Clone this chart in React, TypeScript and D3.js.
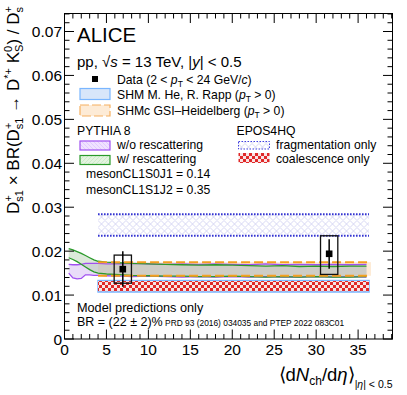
import React from 'react';
import * as d3 from 'd3';

// measured points
const dataX = [6.95, 31.55];
const dataY = [0.0159, 0.0194];
const statLo = [0.0119, 0.016];
const statHi = [0.02, 0.0227];
const sysLo = [0.0127, 0.0147];
const sysHi = [0.0191, 0.0235];

// flat model bands [low, high]
const shmHeRapp = [0.0107, 0.0133];
const shmcGSI = [0.0144, 0.0175];
const eposFrag = [0.0235, 0.0284];
const eposCoal = [0.0109, 0.0132];
const bandRange = [4.0, 36.3];

// PYTHIA 8 curves
const pyX = [0.5, 1, 1.5, 2, 2.5, 3, 3.5, 4, 5, 6, 7, 8, 10, 12, 14, 16, 18, 20, 22, 24, 26, 28, 30, 32, 34, 36];
const noRescHi = [0.017, 0.0169, 0.0169, 0.017, 0.0172, 0.0172, 0.0172, 0.0172, 0.0171, 0.0171, 0.0171, 0.0172, 0.0171, 0.017, 0.0171, 0.017, 0.0171, 0.017, 0.0169, 0.0171, 0.0169, 0.017, 0.0169, 0.017, 0.0169, 0.017];
const noRescLo = [0.015, 0.0139, 0.0137, 0.0138, 0.0146, 0.0146, 0.0145, 0.0145, 0.0144, 0.0143, 0.0143, 0.0142, 0.0143, 0.0142, 0.0141, 0.0142, 0.0141, 0.0142, 0.0141, 0.0142, 0.0141, 0.0141, 0.0142, 0.0141, 0.0142, 0.0141];
const rescHi = [0.0206, 0.0203, 0.0199, 0.0195, 0.019, 0.0185, 0.018, 0.0177, 0.0175, 0.0174, 0.0173, 0.0172, 0.0171, 0.017, 0.0169, 0.0168, 0.0169, 0.0168, 0.0167, 0.0166, 0.0167, 0.0165, 0.0166, 0.0165, 0.0166, 0.0166];
const rescLo = [0.0185, 0.0181, 0.0176, 0.017, 0.0164, 0.0158, 0.0153, 0.015, 0.0148, 0.0147, 0.0146, 0.0145, 0.0144, 0.0143, 0.0143, 0.0142, 0.0142, 0.0143, 0.0142, 0.0141, 0.0142, 0.0141, 0.0142, 0.0141, 0.0141, 0.0142];

const xMajor = [0, 5, 10, 15, 20, 25, 30, 35];
const yMajor = [0, 0.01, 0.02, 0.03, 0.04, 0.05, 0.06, 0.07];
const yLabels = ['0', '0.01', '0.02', '0.03', '0.04', '0.05', '0.06', '0.07'];

const W = 407, H = 395;
const L = 64.5, R = 392.5, T = 13.5, B = 339;
const FONT = '"Liberation Sans", Arial, sans-serif';

const App = () => {
  const x = d3.scaleLinear().domain([0, 39.1]).range([L, R]);
  const y = d3.scaleLinear().domain([0, 0.0741]).range([B, T]);

  const bandArea = d3.area<number>()
    .x((_, i) => x(pyX[i]))
    .curve(d3.curveLinear);
  const pyBand = (lo: number[], hi: number[]) =>
    bandArea.y0((_, i) => y(lo[i])).y1((_, i) => y(hi[i]))(pyX) || '';
  const pyLine = (v: number[]) =>
    d3.line<number>().x((d) => x(d)).y((_, i) => y(v[i]))(pyX) || '';

  const flatBand = (b: number[]) => ({
    x: x(bandRange[0]),
    w: x(bandRange[1]) - x(bandRange[0]),
    y: y(b[1]),
    h: y(b[0]) - y(b[1]),
  });

  const xMinor = d3.range(0, 39.1, 1);
  const yMinor = d3.range(0, 0.0741, 0.002);

  const fr = flatBand(eposFrag);
  const co = flatBand(eposCoal);
  const sh = flatBand(shmHeRapp);
  const gs = flatBand(shmcGSI);

  const legendText = { fontSize: 12.2 };

  return (
    <svg width={W} height={H} style={{ position: 'absolute', left: 0, top: 0, background: '#fff' }} fontFamily={FONT}>
      <defs>
        <pattern id="frag" width="7" height="7" patternUnits="userSpaceOnUse">
          <rect width="7" height="7" fill="#fff" />
          <path d="M3.5 0 L7 3.5 L3.5 7 L0 3.5 Z" fill="none" stroke="#d2d2f2" strokeWidth="0.9" />
        </pattern>
        <pattern id="coal" width="6" height="6" patternUnits="userSpaceOnUse">
          <rect width="6" height="6" fill="#f8e4e4" />
          <rect width="3" height="3" fill="#e02828" />
          <rect x="3" y="3" width="3" height="3" fill="#e02828" />
        </pattern>
        <pattern id="hatchG" width="4" height="4" patternUnits="userSpaceOnUse">
          <rect width="4" height="4" fill="#e4f4e0" />
          <path d="M0 4 L4 0" stroke="#c8e8c4" strokeWidth="0.8" />
        </pattern>
        <pattern id="hatchP" width="4" height="4" patternUnits="userSpaceOnUse">
          <rect width="4" height="4" fill="#f0e2ff" />
          <path d="M0 0 L4 4" stroke="#dcc4ff" strokeWidth="0.8" />
        </pattern>
      </defs>

      {/* SHM He-Rapp band */}
      <rect x={sh.x} y={sh.y} width={sh.w} height={sh.h} fill="#d8e6fa" stroke="#7ab6ff" strokeWidth={1.5} />
      {/* EPOS4HQ coalescence */}
      <rect x={co.x} y={co.y} width={co.w} height={co.h} fill="url(#coal)" />
      {/* EPOS4HQ fragmentation */}
      <rect x={fr.x} y={fr.y} width={fr.w} height={fr.h} fill="url(#frag)" />
      <line x1={fr.x} x2={fr.x + fr.w} y1={fr.y} y2={fr.y} stroke="#2a2ad0" strokeWidth={2} strokeDasharray="1.5 1.5" />
      <line x1={fr.x} x2={fr.x + fr.w} y1={fr.y + fr.h} y2={fr.y + fr.h} stroke="#2a2ad0" strokeWidth={2} strokeDasharray="1.5 1.5" />
      {/* SHMc GSI band */}
      <rect x={gs.x} y={gs.y} width={gs.w + 2} height={gs.h} fill="#fdebd6" />

      {/* PYTHIA bands */}
      <path d={pyBand(noRescLo, noRescHi)} fill="#c8a8f0" fillOpacity={0.4} />
      <path d={pyBand(rescLo, rescHi)} fill="#a8c8a0" fillOpacity={0.4} />
      <path d={pyLine(noRescHi)} fill="none" stroke="#a050f0" strokeWidth={1.3} />
      <path d={pyLine(noRescLo)} fill="none" stroke="#a050f0" strokeWidth={1.3} />
      <path d={pyLine(rescHi)} fill="none" stroke="#2a9a2a" strokeWidth={1.3} />
      <path d={pyLine(rescLo)} fill="none" stroke="#2a9a2a" strokeWidth={1.3} />

      <line x1={gs.x} x2={gs.x + gs.w} y1={gs.y} y2={gs.y} stroke="#f5a020" strokeWidth={2} strokeDasharray="9 4" />
      <line x1={gs.x} x2={gs.x + gs.w} y1={gs.y + gs.h} y2={gs.y + gs.h} stroke="#f5a020" strokeWidth={2} strokeDasharray="9 4" />

      {/* data */}
      {dataX.map((dx, i) => (
        <g key={i}>
          <rect x={x(dx - 1.03)} y={y(sysHi[i])} width={x(dx + 1.03) - x(dx - 1.03)} height={y(sysLo[i]) - y(sysHi[i])}
            fill="none" stroke="#111" strokeWidth={1.3} />
          <line x1={x(dx)} x2={x(dx)} y1={y(statHi[i])} y2={y(statLo[i])} stroke="#000" strokeWidth={1.5} />
          <rect x={x(dx) - 3.3} y={y(dataY[i]) - 3.3} width={6.6} height={6.6} fill="#000" />
        </g>
      ))}

      {/* frame and ticks */}
      <rect x={L} y={T} width={R - L} height={B - T} fill="none" stroke="#000" strokeWidth={1} />
      {xMinor.map((v) => {
        const major = v % 5 === 0;
        const len = major ? 9.5 : 5;
        return (
          <g key={'xt' + v}>
            <line x1={x(v)} x2={x(v)} y1={B} y2={B - len} stroke="#000" />
            <line x1={x(v)} x2={x(v)} y1={T} y2={T + len} stroke="#000" />
          </g>
        );
      })}
      {yMinor.map((v, i) => {
        const major = i % 5 === 0;
        const len = major ? 9.5 : 5;
        return (
          <g key={'yt' + i}>
            <line x1={L} x2={L + len} y1={y(v)} y2={y(v)} stroke="#000" />
            <line x1={R} x2={R - len} y1={y(v)} y2={y(v)} stroke="#000" />
          </g>
        );
      })}
      {xMajor.map((v) => (
        <text key={'xl' + v} x={x(v)} y={355} fontSize={15.5} textAnchor="middle">{v}</text>
      ))}
      {yMajor.map((v, i) => (
        <text key={'yl' + i} x={L - 2.5} y={y(v) + 5.5} fontSize={15.5} textAnchor="end">{yLabels[i]}</text>
      ))}

      {/* axis titles */}
      <text x={R} y={381} fontSize={18.5} textAnchor="end">
        <tspan>⟨d</tspan><tspan fontStyle="italic">N</tspan>
        <tspan fontSize={12} dy={4}>ch</tspan>
        <tspan dy={-4}>/d</tspan><tspan fontStyle="italic">η</tspan><tspan>⟩</tspan>
        <tspan fontSize={10.5} dy={7}>|</tspan><tspan fontSize={10.5} fontStyle="italic">η</tspan><tspan fontSize={10.5}>| &lt; 0.5</tspan>
      </text>
      <text transform="translate(18.5,6) rotate(-90)" fontSize={17} textAnchor="end">
        <tspan>D</tspan>
        <tspan fontSize={11} dy={-7}>+</tspan>
        <tspan fontSize={11} dx={-6.5} dy={11}>s1</tspan>
        <tspan dy={-4}> × BR(D</tspan>
        <tspan fontSize={11} dy={-7}>+</tspan>
        <tspan fontSize={11} dx={-6.5} dy={11}>s1</tspan>
        <tspan dy={-4}> → D</tspan>
        <tspan fontSize={11} dy={-7}>*+</tspan>
        <tspan dy={7}> K</tspan>
        <tspan fontSize={11} dy={-7}>0</tspan>
        <tspan fontSize={11} dx={-6} dy={11}>S</tspan>
        <tspan dy={-4}>) / D</tspan>
        <tspan fontSize={11} dy={-7}>+</tspan>
        <tspan fontSize={11} dx={-6.5} dy={11}>s</tspan>
      </text>

      {/* header */}
      <text x={77} y={42} fontSize={20.5}>ALICE</text>
      <text x={77} y={67} fontSize={15}>
        pp, √<tspan fontStyle="italic">s</tspan> = 13 TeV, |<tspan fontStyle="italic">y</tspan>| &lt; 0.5
      </text>

      {/* legend */}
      <rect x={92} y={76} width={6} height={6} fill="#000" />
      <text x={117} y={83.5} {...legendText}>
        Data (2 &lt; <tspan fontStyle="italic">p</tspan><tspan fontSize={8.5} dy={3}>T</tspan><tspan dy={-3}> &lt; 24 GeV/</tspan><tspan fontStyle="italic">c</tspan>)
      </text>
      <rect x={80} y={88.5} width={30} height={11} fill="#d8e6fa" stroke="#7ab6ff" strokeWidth={1.2} />
      <text x={117} y={98.5} {...legendText}>
        SHM M. He, R. Rapp (<tspan fontStyle="italic">p</tspan><tspan fontSize={8.5} dy={3}>T</tspan><tspan dy={-3}> &gt; 0)</tspan>
      </text>
      <rect x={80} y={105} width={30} height={11} fill="#fdebd6" stroke="#f5b060" strokeWidth={1.2} strokeDasharray="9 3" />
      <text x={117} y={114.5} {...legendText}>
        SHMc GSI–Heidelberg (<tspan fontStyle="italic">p</tspan><tspan fontSize={8.5} dy={3}>T</tspan><tspan dy={-3}> &gt; 0)</tspan>
      </text>

      <text x={77} y={134.5} {...legendText}>PYTHIA 8</text>
      <rect x={80} y={141} width={30} height={9} fill="url(#hatchP)" stroke="#a050f0" strokeWidth={1.2} />
      <text x={117} y={149} {...legendText}>w/o rescattering</text>
      <rect x={80} y={155.5} width={30} height={9} fill="url(#hatchG)" stroke="#2a9a2a" strokeWidth={1.2} />
      <text x={117} y={163} {...legendText}>w/ rescattering</text>
      <text x={86} y={178} {...legendText}>mesonCL1S0J1 = 0.14</text>
      <text x={86} y={194} {...legendText}>mesonCL1S1J2 = 0.35</text>

      <text x={236.5} y={135} {...legendText}>EPOS4HQ</text>
      <rect x={238.5} y={141.5} width={31} height={7.5} fill="url(#frag)" stroke="#4040e0" strokeWidth={1} strokeDasharray="1.5 1.5" />
      <text x={276} y={148.5} {...legendText}>fragmentation only</text>
      <rect x={238.5} y={153} width={31} height={10} fill="url(#coal)" />
      <text x={276} y={162.5} {...legendText}>coalescence only</text>

      <text x={77} y={311.5} fontSize={12.7}>Model predictions only</text>
      <text x={77} y={325.5} fontSize={12.5}>
        BR = (22 ± 2)%<tspan fontSize={8.4}> PRD 93 (2016) 034035 and PTEP 2022 083C01</tspan>
      </text>
    </svg>
  );
};

export default App;
